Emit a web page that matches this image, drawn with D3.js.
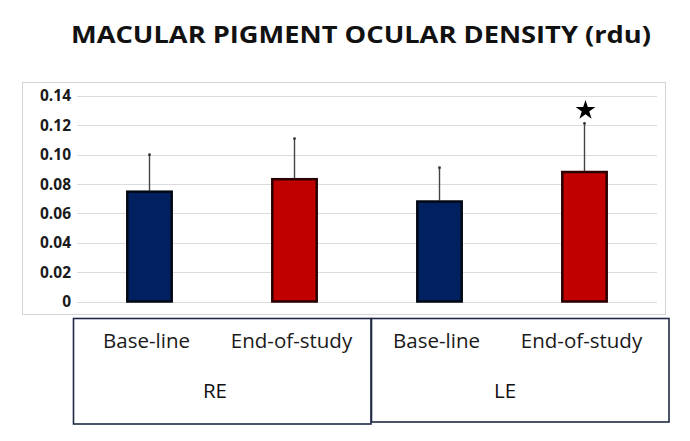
<!DOCTYPE html>
<html>
<head>
<meta charset="utf-8">
<script src="https://cdn.jsdelivr.net/npm/d3@7"></script>
<style>
  body { margin: 0; background: #fff; }
  svg { display: block; }
</style>
</head>
<body>
<svg id="chart" width="690" height="441"></svg>
<script>
// data
const groups = ["RE", "LE"];
const conditions = ["Base-line", "End-of-study"];
const bars = ["RE-Base-line", "RE-End-of-study", "LE-Base-line", "LE-End-of-study"];
const means = [0.0755, 0.084, 0.0688, 0.0889];
const sdUpper = [0.1, 0.111, 0.0912, 0.1214];
const significant = [false, false, false, true];
const yTicks = [0, 0.02, 0.04, 0.06, 0.08, 0.10, 0.12, 0.14];
const barColors = ["#002060", "#c00000", "#002060", "#c00000"];
const barStrokes = ["#000814", "#2a0000", "#000814", "#2a0000"];

const svg = d3.select("#chart");

const x = d3.scaleBand().domain(bars).range([77, 657]).paddingInner(0.68).paddingOuter(0.34);
const y = d3.scaleLinear().domain([0, 0.14]).range([301.5, 96]);

// title
svg.append("text")
  .attr("x", 361).attr("y", 43)
  .attr("text-anchor", "middle")
  .attr("font-family", "'Open Sans', sans-serif")
  .attr("font-weight", "bold")
  .attr("font-size", 23)
  .attr("textLength", 580).attr("lengthAdjust", "spacingAndGlyphs")
  .attr("fill", "#111")
  .text("MACULAR PIGMENT OCULAR DENSITY (rdu)");

// plot frame
svg.append("rect")
  .attr("x", 22.5).attr("y", 82.5).attr("width", 643).attr("height", 232)
  .attr("fill", "none").attr("stroke", "#d4d4d4").attr("stroke-width", 1);

// gridlines
svg.append("g").selectAll("line").data(yTicks).join("line")
  .attr("x1", 77).attr("x2", 657)
  .attr("y1", d => Math.round(y(d)) + 0.5).attr("y2", d => Math.round(y(d)) + 0.5)
  .attr("stroke", "#dcdcdc").attr("stroke-width", 1.2);

// y axis labels
const yAxis = d3.axisLeft(y).tickValues(yTicks).tickSize(0).tickPadding(0)
  .tickFormat(d => d === 0 ? "0" : d3.format(".2f")(d));
const ya = svg.append("g").attr("transform", "translate(71,0)").call(yAxis);
ya.select(".domain").remove();
ya.selectAll("text")
  .attr("font-family", "'Open Sans', sans-serif")
  .attr("font-weight", "bold")
  .attr("font-size", 15.5)
  .attr("fill", "#1a1a1a");

// error bars (upper only)
const eg = svg.append("g");
eg.selectAll("line").data(bars).join("line")
  .attr("x1", d => x(d) + x.bandwidth() / 2).attr("x2", d => x(d) + x.bandwidth() / 2)
  .attr("y1", (d, i) => y(means[i])).attr("y2", (d, i) => y(sdUpper[i]))
  .attr("stroke", "#444").attr("stroke-width", 1.4);
eg.selectAll("circle").data(bars).join("circle")
  .attr("cx", d => x(d) + x.bandwidth() / 2)
  .attr("cy", (d, i) => y(sdUpper[i]))
  .attr("r", 1.4).attr("fill", "#333");

// bars
svg.append("g").selectAll("rect").data(bars).join("rect")
  .attr("x", d => x(d) + 1)
  .attr("y", (d, i) => y(means[i]) + 1)
  .attr("width", x.bandwidth() - 2)
  .attr("height", (d, i) => y(0) - y(means[i]) - 1)
  .attr("fill", (d, i) => barColors[i])
  .attr("stroke", (d, i) => barStrokes[i])
  .attr("stroke-width", 2.5);

// significance star
svg.append("g").selectAll("path").data(bars.filter((d, i) => significant[i])).join("path")
  .attr("transform", d => `translate(${x(d) + x.bandwidth() / 2 + 1},${y(sdUpper[bars.indexOf(d)]) - 13})`)
  .attr("d", d3.symbol().type(d3.symbolStar).size(120))
  .attr("fill", "#000");

// category boxes
const boxes = [
  { group: "RE", x0: 73.5, x1: 371, y0: 318.5, y1: 424 },
  { group: "LE", x0: 371.5, x1: 669, y0: 318.5, y1: 422 }
];
const bg = svg.append("g");
bg.selectAll("rect").data(boxes).join("rect")
  .attr("x", d => d.x0).attr("y", d => d.y0)
  .attr("width", d => d.x1 - d.x0).attr("height", d => d.y1 - d.y0)
  .attr("fill", "none").attr("stroke", "#1f2a44").attr("stroke-width", 1.6);

const labelFont = "'Open Sans', sans-serif";
svg.append("g").selectAll("text").data(bars).join("text")
  .attr("x", d => x(d) + x.bandwidth() / 2 - 3)
  .attr("y", 348)
  .attr("text-anchor", "middle")
  .attr("font-family", labelFont)
  .attr("font-size", 20.5)
  .attr("fill", "#1a1a1a")
  .text(d => conditions.find(c => d.endsWith(c)));

svg.append("g").selectAll("text").data(groups).join("text")
  .attr("x", d => {
    const b = bars.filter(v => v.startsWith(d));
    return (x(b[0]) + x(b[1]) + x.bandwidth()) / 2 - 7;
  })
  .attr("y", 398)
  .attr("text-anchor", "middle")
  .attr("font-family", labelFont)
  .attr("font-size", 20.5)
  .attr("fill", "#111")
  .text(d => d);
</script>
</body>
</html>
